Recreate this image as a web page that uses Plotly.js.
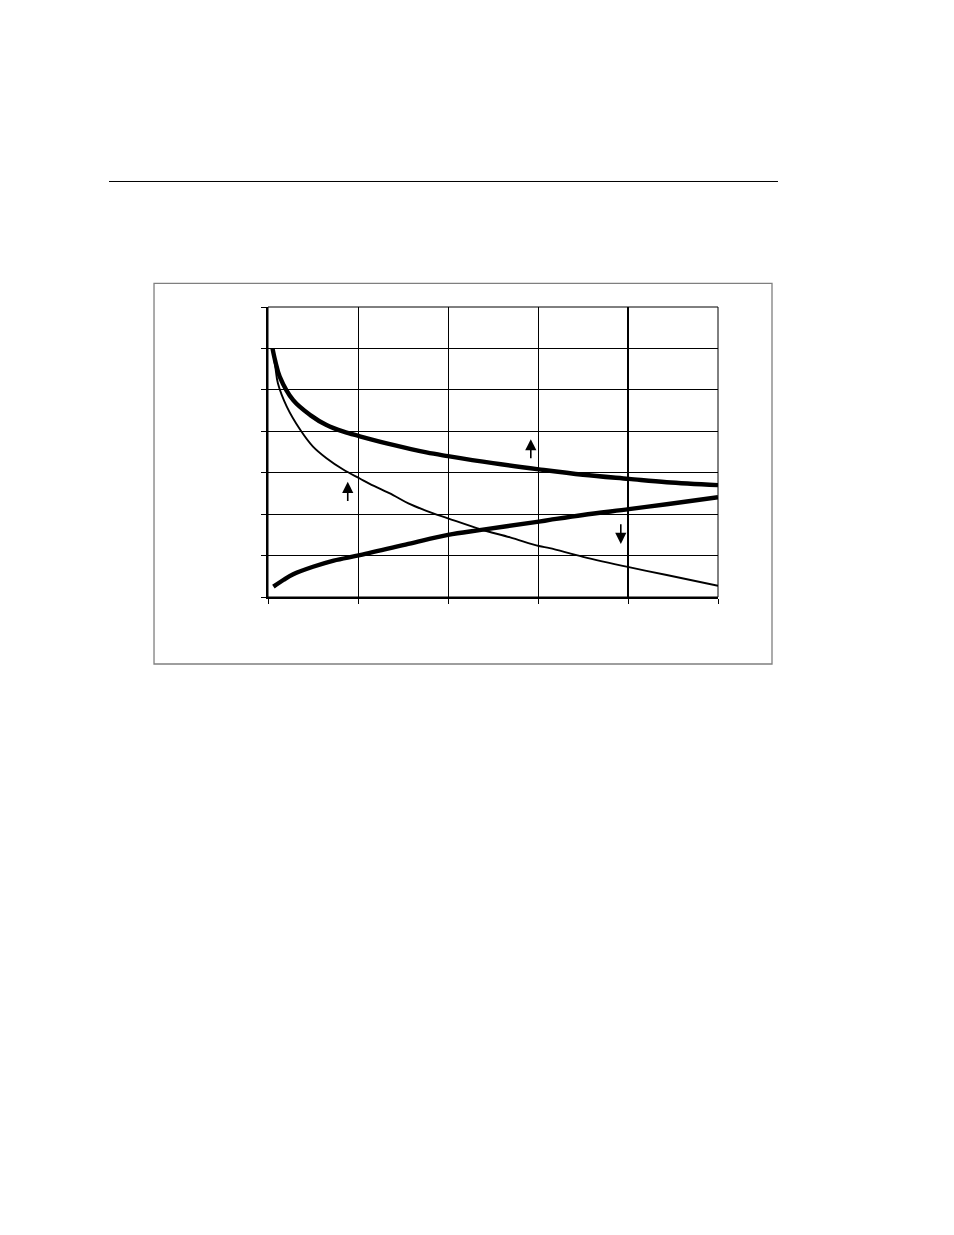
<!DOCTYPE html>
<html>
<head>
<meta charset="utf-8">
<script src="https://cdn.plot.ly/plotly-3.0.1.min.js"></script>
<style>
  html, body { margin: 0; padding: 0; background: #fff; }
  #chart { width: 954px; height: 1235px; }
</style>
</head>
<body>
<div id="chart"></div>
<script>
// upper thick curve
var xUpper = [0.05, 0.08, 0.13, 0.28, 0.47, 0.65, 0.84, 1.02, 1.39, 1.76, 2.00, 2.50, 3.01, 3.50, 4.01, 4.43, 5.00];
var yUpper = [6.00, 5.70, 5.32, 4.75, 4.39, 4.15, 3.99, 3.88, 3.67, 3.49, 3.40, 3.23, 3.08, 2.95, 2.85, 2.77, 2.70];

// thin falling curve
var xThin = [0.05, 0.08, 0.11, 0.21, 0.36, 0.50, 0.65, 0.84, 1.02, 1.13, 1.39, 1.56, 1.76, 2.00, 2.37, 2.69, 3.01, 3.13, 3.50, 4.01, 4.43, 5.00];
var yThin = [6.00, 5.58, 5.16, 4.59, 4.03, 3.63, 3.35, 3.07, 2.86, 2.73, 2.46, 2.26, 2.08, 1.90, 1.63, 1.44, 1.23, 1.18, 0.97, 0.72, 0.53, 0.27];

// lower thick rising curve
var xLower = [0.06, 0.17, 0.28, 0.50, 0.73, 1.02, 1.56, 2.00, 2.37, 3.01, 3.13, 3.50, 4.01, 4.43, 5.00];
var yLower = [0.25, 0.41, 0.55, 0.73, 0.88, 1.01, 1.28, 1.50, 1.62, 1.82, 1.86, 1.98, 2.12, 2.24, 2.41];

// arrow markers: x position, tip, tail
var arrowX    = [0.886, 2.92, 3.92];
var arrowTip  = [2.78, 3.81, 1.28];
var arrowTail = [2.28, 3.31, 1.79];

var traces = [
  { x: xUpper, y: yUpper, type: 'scatter', mode: 'lines',
    line: { color: '#000', width: 4.4, shape: 'spline', smoothing: 1 } },
  { x: xThin, y: yThin, type: 'scatter', mode: 'lines',
    line: { color: '#000', width: 1.9, shape: 'spline', smoothing: 1 } },
  { x: xLower, y: yLower, type: 'scatter', mode: 'lines',
    line: { color: '#000', width: 4.4, shape: 'spline', smoothing: 1 } }
];

var arrows = arrowX.map(function (x, i) {
  return {
    x: x, y: arrowTip[i], ax: x, ay: arrowTail[i],
    xref: 'x', yref: 'y', axref: 'x', ayref: 'y',
    text: '', showarrow: true, arrowhead: 2, arrowsize: 1.4,
    arrowwidth: 1.6, arrowcolor: '#000', standoff: 0, startstandoff: 0
  };
});

var axisBase = {
  showline: true, linecolor: '#000', linewidth: 2,
  showgrid: true, gridcolor: '#000', gridwidth: 1,
  zeroline: false, ticks: 'outside', ticklen: 5, tickwidth: 1, tickcolor: '#000',
  showticklabels: false, dtick: 1, fixedrange: true
};

var layout = {
  width: 954, height: 1235, autosize: false,
  margin: { l: 268, r: 236, t: 307, b: 638, pad: 0 },
  paper_bgcolor: '#fff', plot_bgcolor: '#fff',
  showlegend: false,
  xaxis: Object.assign({}, axisBase, { range: [0, 5], tick0: 0 }),
  yaxis: Object.assign({}, axisBase, { range: [0, 7], tick0: 0 }),
  annotations: arrows,
  shapes: [
    // plot border (top / right)
    { type: 'rect', xref: 'paper', yref: 'paper', x0: 0, x1: 1, y0: 0, y1: 1,
      line: { color: '#000', width: 1 } },
    // heavier vertical line
    { type: 'line', xref: 'x', yref: 'paper', x0: 4, x1: 4, y0: 0, y1: 1,
      line: { color: '#000', width: 2 } },
    // outer frame
    { type: 'rect', xref: 'paper', yref: 'paper', x0: -0.2533, x1: 1.12, y0: -0.231, y1: 1.0817,
      line: { color: '#7f7f7f', width: 1.3 } },
    // page rule
    { type: 'line', xref: 'paper', yref: 'paper', x0: -0.3533, x1: 1.1333, y0: 1.4328, y1: 1.4328,
      line: { color: '#000', width: 1 } }
  ]
};

Plotly.newPlot('chart', traces, layout, { displayModeBar: false, staticPlot: true });
</script>
</body>
</html>
